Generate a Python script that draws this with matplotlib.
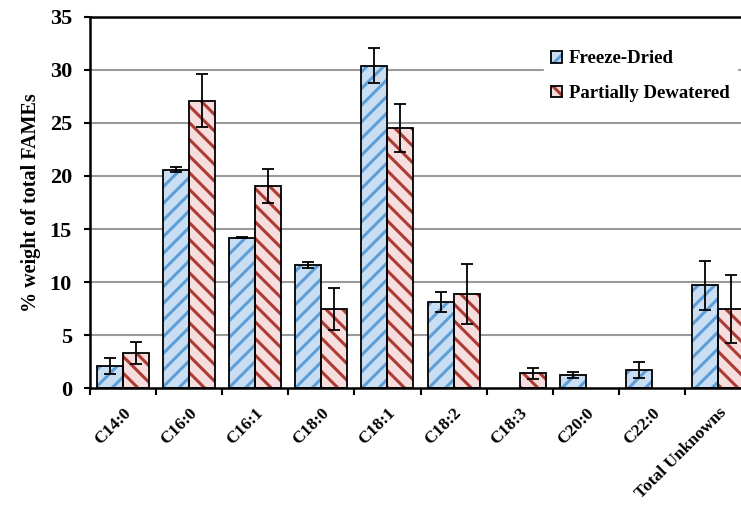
import numpy as np
import matplotlib
matplotlib.use("Agg")
import matplotlib.pyplot as plt

# fatty acid profile, % weight of total FAMEs
categories = ["C14:0", "C16:0", "C16:1", "C18:0", "C18:1", "C18:2",
              "C18:3", "C20:0", "C22:0", "Total Unknowns"]
freeze_dried = [2.1, 20.6, 14.2, 11.6, 30.4, 8.1, 0.0, 1.25, 1.7, 9.7]
freeze_dried_err = [0.75, 0.2, 0.05, 0.27, 1.65, 0.95, 0.0, 0.25, 0.75, 2.3]
dewatered = [3.35, 27.1, 19.1, 7.5, 24.5, 8.9, 1.4, 0.0, 0.0, 7.5]
dewatered_err = [1.05, 2.5, 1.6, 1.97, 2.25, 2.8, 0.55, 0.0, 0.0, 3.2]

plt.rcParams['font.family'] = 'Liberation Serif'
plt.rcParams['font.weight'] = 'bold'
plt.rcParams['hatch.linewidth'] = 2.2

blue_face, blue_hatch = '#c9def2', '#5f9fd8'
red_face, red_hatch = '#f6dede', '#ae3a34'

fig = plt.figure(figsize=(7.41, 5.05), dpi=100)
ax = fig.add_axes([0.1215, 0.231, 0.892, 0.736])

x = np.arange(len(categories)) + 0.5
w = 0.393


def hatched_bars(pos, vals, errs, face, hcolor, hatch):
    # skip empty entries so no outline is left on the axis
    keep = [i for i, v in enumerate(vals) if v > 0]
    pos = [pos[i] for i in keep]
    vals = [vals[i] for i in keep]
    errs = [errs[i] for i in keep]
    # fill + stripes first, then a plain black outline on top
    stripes = ax.bar(pos, vals, w, color=face, edgecolor=hcolor, hatch=hatch,
                     linewidth=0, zorder=2)
    outline = ax.bar(pos, vals, w, fill=False, edgecolor='black',
                     linewidth=1.3, zorder=3)
    ax.errorbar(pos, vals, yerr=errs, fmt='none', ecolor='black',
                elinewidth=1.3, capsize=4.5, capthick=1.3, zorder=4)
    return stripes[0], outline[0]


h1 = hatched_bars(x - w / 2, freeze_dried, freeze_dried_err,
                  blue_face, blue_hatch, '//')
h2 = hatched_bars(x + w / 2, dewatered, dewatered_err,
                  red_face, red_hatch, '\\\\')

ax.set_xlim(0, len(categories))
ax.set_ylim(0, 35)
ax.set_yticks(range(0, 36, 5))
ax.set_xticks(range(0, len(categories) + 1), minor=False)
ax.set_xticklabels([])
ax.set_xticks(x, minor=True)
ax.set_xticklabels(categories, minor=True, rotation=45, ha='right',
                   rotation_mode='anchor', fontsize=12.5, fontweight='bold')
ax.tick_params(axis='x', which='minor', length=0, pad=12)
ax.tick_params(axis='x', which='major', direction='out', length=5, width=1.5)
ax.tick_params(axis='y', direction='out', length=4, width=1.5,
               labelsize=16, pad=9)

for y in range(5, 35, 5):
    ax.axhline(y, color='#9a9a9a', linewidth=1.5, zorder=1)

for side in ['left', 'bottom', 'top']:
    ax.spines[side].set_linewidth(1.8)
ax.spines['right'].set_visible(False)

ax.set_ylabel('% weight of total FAMEs', fontsize=14.5, fontweight='bold',
              labelpad=6)

leg = ax.legend([h1, h2], ['Freeze-Dried', 'Partially Dewatered'],
                loc='upper left', bbox_to_anchor=(0.672, 0.955),
                frameon=True, fancybox=False, edgecolor='white',
                framealpha=1, fontsize=13.5, handlelength=0.6,
                handleheight=0.6, handletextpad=0.35, labelspacing=0.95,
                borderpad=0.4)
leg.set_zorder(5)

fig.savefig('out.png', dpi=100)
